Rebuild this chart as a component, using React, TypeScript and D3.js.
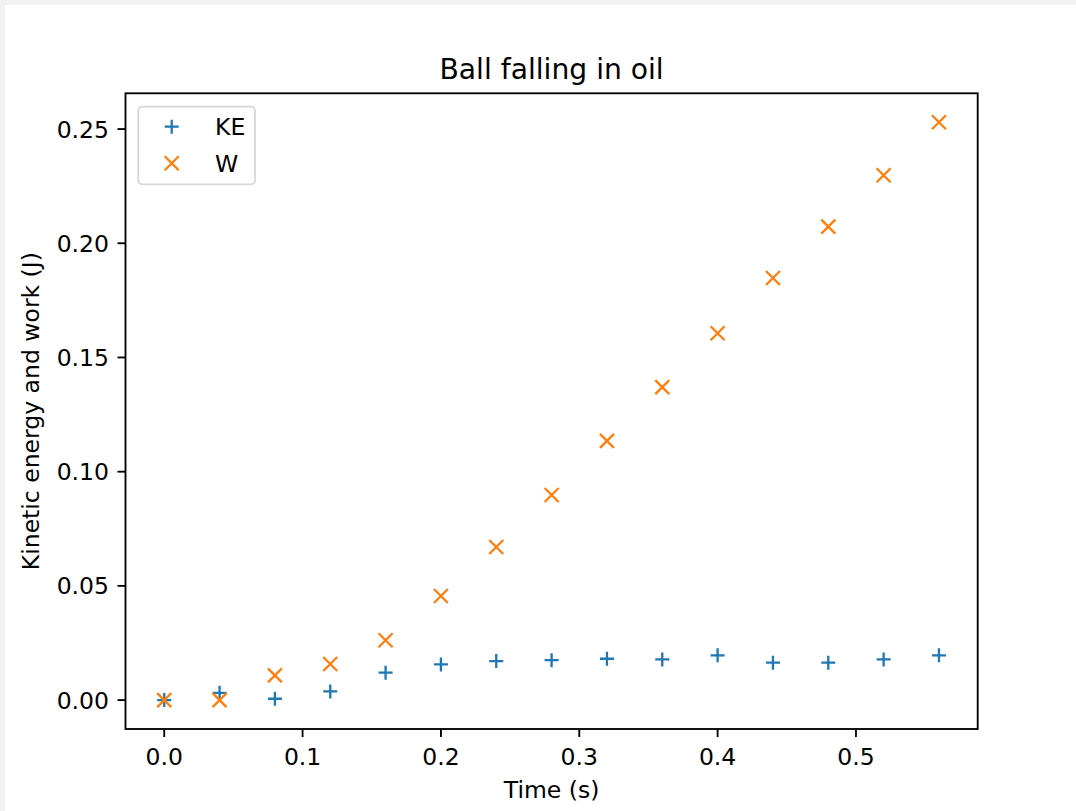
import React from "react";
import * as d3 from "d3";

// time samples (s)
const times = [0, 0.04, 0.08, 0.12, 0.16, 0.2, 0.24, 0.28, 0.32, 0.36, 0.4, 0.44, 0.48, 0.52, 0.56];
// kinetic energy (J)
const keValues = [0, 0.0032, 0.0006, 0.0038, 0.012, 0.0156, 0.0171, 0.0175, 0.0181, 0.0178, 0.0196, 0.0164, 0.0164, 0.0178, 0.0196];
// work (J)
const wValues = [0, 0.0, 0.0108, 0.0158, 0.0262, 0.0456, 0.067, 0.0898, 0.1135, 0.137, 0.1606, 0.1848, 0.2073, 0.2298, 0.253];

const xTicks = [0, 0.1, 0.2, 0.3, 0.4, 0.5];
const yTicks = [0, 0.05, 0.1, 0.15, 0.2, 0.25];

const W = 1076;
const H = 811;
const plot = { left: 125.5, right: 977.7, top: 93.3, bottom: 729 };
const FONT = "DejaVu Sans, sans-serif";
const BLUE = "#1f77b4";
const ORANGE = "#ff7f0e";
const FS = 23.5;

// matplotlib style 5% margins
function padded(vals: number[]): [number, number] {
  const lo = d3.min(vals) as number;
  const hi = d3.max(vals) as number;
  const m = (hi - lo) * 0.05;
  return [lo - m, hi + m];
}

const x = d3.scaleLinear().domain(padded(times)).range([plot.left, plot.right]);
const y = d3
  .scaleLinear()
  .domain(padded([...keValues, ...wValues]))
  .range([plot.bottom, plot.top]);

const plusPath = (cx: number, cy: number, r = 7) =>
  `M${cx - r},${cy}H${cx + r}M${cx},${cy - r}V${cy + r}`;
const crossPath = (cx: number, cy: number, r = 7) =>
  `M${cx - r},${cy - r}L${cx + r},${cy + r}M${cx - r},${cy + r}L${cx + r},${cy - r}`;

export default function App() {
  const midX = (plot.left + plot.right) / 2;
  const midY = (plot.top + plot.bottom) / 2;
  return (
    <svg
      width={W}
      height={H}
      style={{ position: "fixed", left: 0, top: 0, fontFamily: FONT }}
    >
      <rect x={0} y={0} width={W} height={H} fill="#f2f2f2" />
      <rect x={5} y={5} width={W - 5} height={H - 5} fill="#ffffff" />

      {/* title */}
      <text x={midX} y={79.3} fontSize={28.2} textAnchor="middle" fill="#000">
        Ball falling in oil
      </text>

      {/* data */}
      <g fill="none" strokeWidth={2.3}>
        {times.map((t, i) => (
          <path key={"ke" + i} d={plusPath(x(t), y(keValues[i]))} stroke={BLUE} />
        ))}
        {times.map((t, i) => (
          <path key={"w" + i} d={crossPath(x(t), y(wValues[i]))} stroke={ORANGE} />
        ))}
      </g>

      {/* axes frame */}
      <rect
        x={plot.left}
        y={plot.top}
        width={plot.right - plot.left}
        height={plot.bottom - plot.top}
        fill="none"
        stroke="#000"
        strokeWidth={1.85}
      />

      {/* x ticks */}
      {xTicks.map((t) => (
        <g key={"xt" + t}>
          <line x1={x(t)} x2={x(t)} y1={plot.bottom} y2={plot.bottom + 8} stroke="#000" strokeWidth={1.85} />
          <text x={x(t)} y={765} fontSize={FS} textAnchor="middle" fill="#000">
            {d3.format(".1f")(t)}
          </text>
        </g>
      ))}

      {/* y ticks */}
      {yTicks.map((t) => (
        <g key={"yt" + t}>
          <line x1={plot.left - 8} x2={plot.left} y1={y(t)} y2={y(t)} stroke="#000" strokeWidth={1.85} />
          <text x={109} y={y(t) + 8.5} fontSize={FS} textAnchor="end" fill="#000">
            {d3.format(".2f")(t)}
          </text>
        </g>
      ))}

      {/* axis labels */}
      <text x={midX} y={798.3} fontSize={FS} textAnchor="middle" fill="#000">
        Time (s)
      </text>
      <text
        transform={`translate(38.5,${midY}) rotate(-90)`}
        fontSize={FS}
        textAnchor="middle"
        fill="#000"
      >
        Kinetic energy and work (J)
      </text>

      {/* legend */}
      <rect x={138.3} y={106.7} width={116.7} height={77.6} rx={4} fill="#fff" fillOpacity={0.8} stroke="#d6d6d6" strokeWidth={1.8} />
      <path d={plusPath(171.7, 126.7)} stroke={BLUE} strokeWidth={2.3} fill="none" />
      <text x={215} y={126.7 + 8.5} fontSize={FS} fill="#000">KE</text>
      <path d={crossPath(171.7, 163.3)} stroke={ORANGE} strokeWidth={2.3} fill="none" />
      <text x={215} y={163.3 + 8.5} fontSize={FS} fill="#000">W</text>
    </svg>
  );
}
